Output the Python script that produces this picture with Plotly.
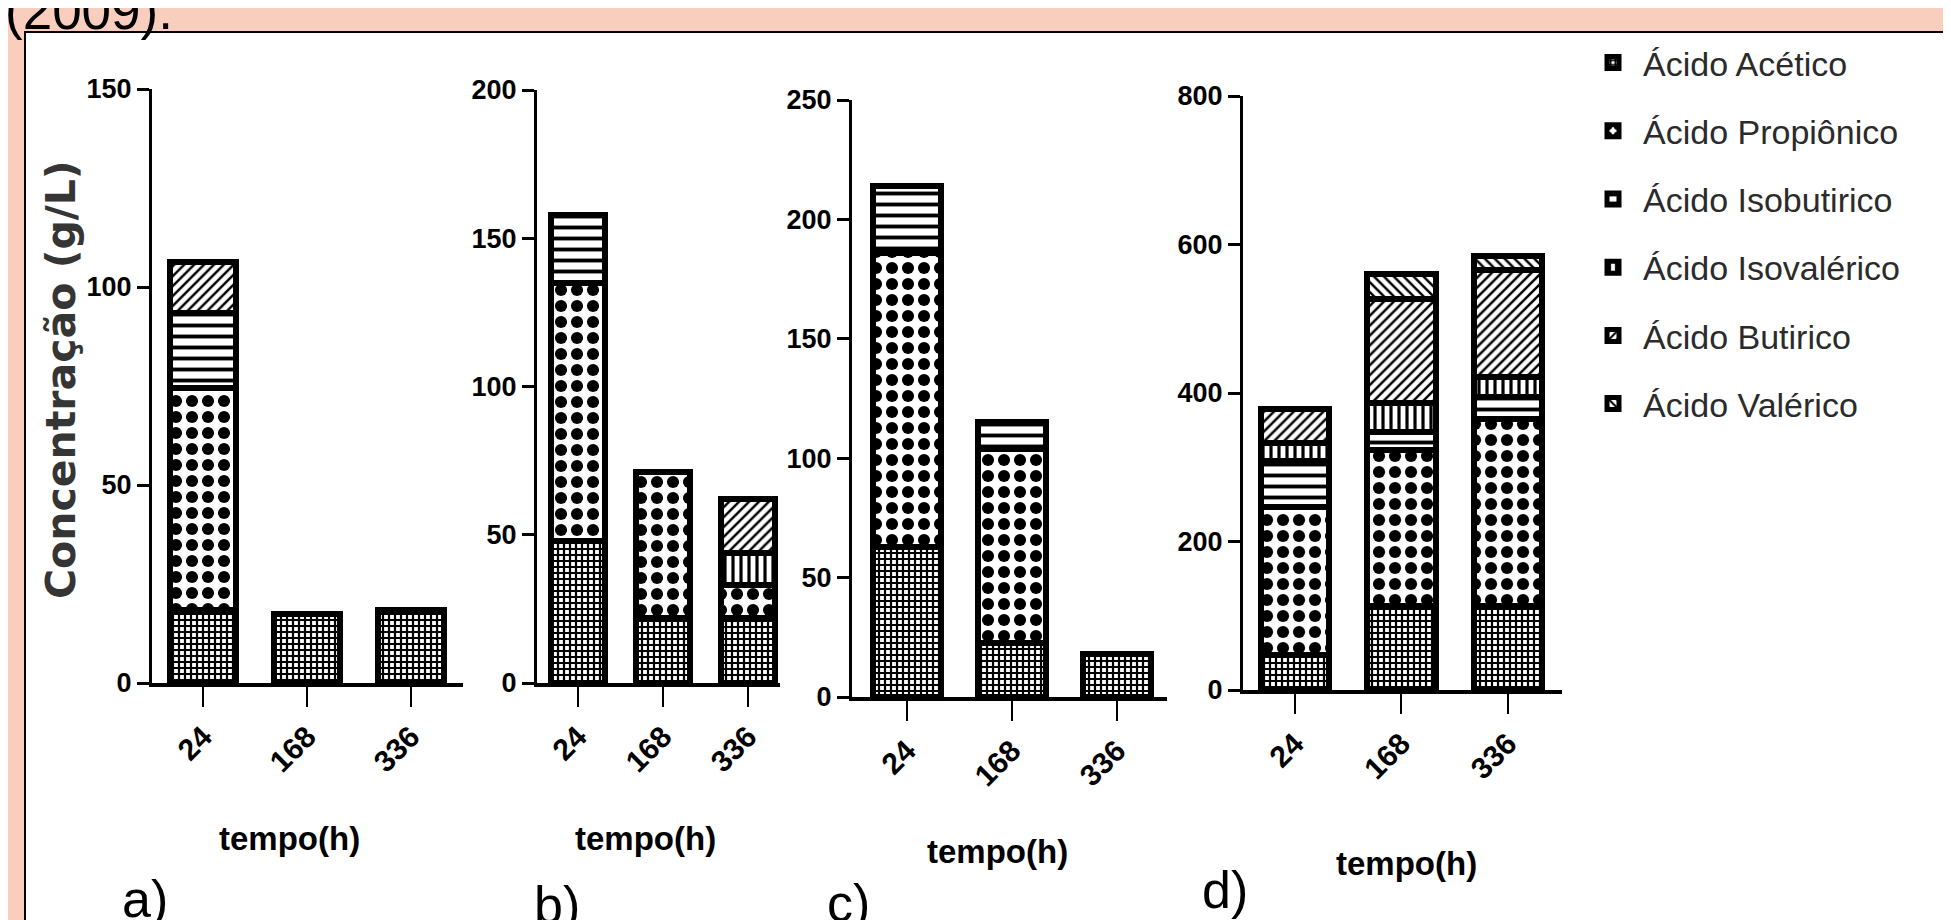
import plotly.graph_objects as go

# ---------------- data ----------------
times = ["24", "168", "336"]
acids = ["Ácido Acético", "Ácido Propiônico", "Ácido Isobutirico",
         "Ácido Isovalérico", "Ácido Butirico", "Ácido Valérico"]

a_acetico = [18.4, 17.5, 18.5]
a_propionico = [56, 0, 0]
a_isobutirico = [19, 0, 0]
a_isovalerico = [0, 0, 0]
a_butirico = [13, 0, 0]
a_valerico = [0, 0, 0]

b_acetico = [48, 22, 22]
b_propionico = [87, 49, 11]
b_isobutirico = [23, 0, 0]
b_isovalerico = [0, 0, 11]
b_butirico = [0, 0, 18]
b_valerico = [0, 0, 0]

c_acetico = [63, 22.5, 18]
c_propionico = [123, 81.5, 0]
c_isobutirico = [28, 11, 0]
c_isovalerico = [0, 0, 0]
c_butirico = [0, 0, 0]
c_valerico = [0, 0, 0]

d_acetico = [47, 113, 113]
d_propionico = [199, 210, 252]
d_isobutirico = [63, 24, 30]
d_isovalerico = [24, 40, 26]
d_butirico = [46, 139, 144]
d_valerico = [0, 34, 19]

y_max = [150, 200, 250, 800]
y_dtick = [50, 50, 50, 200]
panel_letters = ["a)", "b)", "c)", "d)"]
x_title = "tempo(h)"
y_title = "Concentração (g/L)"
header_text = "(2009)."

panels = [
    [a_acetico, a_propionico, a_isobutirico, a_isovalerico, a_butirico, a_valerico],
    [b_acetico, b_propionico, b_isobutirico, b_isovalerico, b_butirico, b_valerico],
    [c_acetico, c_propionico, c_isobutirico, c_isovalerico, c_butirico, c_valerico],
    [d_acetico, d_propionico, d_isobutirico, d_isovalerico, d_butirico, d_valerico],
]

# ---------------- styling ----------------
W, H = 1951, 920
OFF = 8  # page body margin offset
PINK = "rgb(250,206,191)"
BOLDF = "Liberation Sans, Arial, sans-serif"
SANS = "Liberation Sans, Arial, sans-serif"

patterns = [
    dict(shape="+", size=6, solidity=0.6),
    dict(shape=".", size=16, solidity=0.45),
    dict(shape="-", size=11, solidity=0.35),
    dict(shape="|", size=8, solidity=0.4),
    dict(shape="/", size=7, solidity=0.35),
    dict(shape="\\", size=7, solidity=0.35),
]

def px_x(v):
    return (v - OFF) / W

def px_y(v):
    return 1 - (v - OFF) / H

x_px = [(152, 463), (537, 780), (852, 1167), (1243, 1562)]
y_px = [(683, 89), (683, 90), (697, 100), (690, 96)]
x_ranges = [[-0.493, 2.50], [-0.482, 2.376], [-0.524, 2.476], [-0.488, 2.507]]
xtitle_pos = [(289, 838), (645, 838), (997, 851), (1406, 863)]
letter_pos = [(145, 868), (557, 874), (848, 872), (1225, 859)]

fig = go.Figure()

for p, series in enumerate(panels):
    sfx = "" if p == 0 else str(p + 1)
    for i, acid in enumerate(acids):
        pat = dict(patterns[i])
        pat.update(fgcolor="black", bgcolor="white", fillmode="replace")
        fig.add_trace(go.Bar(
            x=times, y=series[i], name=acid, legendgroup=acid,
            showlegend=(p == 0),
            width=0.64,
            marker=dict(color="white", line=dict(color="black", width=6), pattern=pat),
            xaxis="x" + sfx, yaxis="y" + sfx,
            hovertemplate=acid + ": %{y}<extra></extra>",
        ))

layout_axes = {}
for p in range(4):
    sfx = "" if p == 0 else str(p + 1)
    xl, xr = x_px[p]
    yb, yt = y_px[p]
    layout_axes["xaxis" + sfx] = dict(
        domain=[px_x(xl), px_x(xr)], anchor="y" + sfx, type="category",
        range=x_ranges[p], showline=True, linecolor="black", linewidth=4,
        ticks="outside", ticklen=20, tickwidth=2, tickcolor="black",
        tickangle=-45, showgrid=False, zeroline=False, fixedrange=True,
        automargin=False,
        tickfont=dict(family=BOLDF, size=30, color="black", weight="bold"),
    )
    layout_axes["yaxis" + sfx] = dict(
        domain=[px_y(yb), px_y(yt)], anchor="x" + sfx,
        range=[0, y_max[p]], dtick=y_dtick[p], showline=True, linecolor="black",
        linewidth=3, ticks="outside", ticklen=12, tickwidth=3, tickcolor="black",
        showgrid=False, zeroline=False, fixedrange=True, automargin=False,
        tickfont=dict(family=BOLDF, size=27, color="black", weight="bold"),
    )

annotations = [
    dict(text=header_text, x=px_x(3), y=px_y(42), xref="paper", yref="paper",
         xanchor="left", yanchor="bottom", showarrow=False,
         font=dict(family=SANS, size=53, color="black")),
    dict(text=y_title, x=px_x(61), y=px_y(380), xref="paper", yref="paper",
         xanchor="center", yanchor="middle", textangle=-90, showarrow=False,
         font=dict(family="DejaVu Sans, Liberation Sans, sans-serif", size=41,
                   color="#353535", weight="bold")),
]
for p in range(4):
    cx, cy = xtitle_pos[p]
    annotations.append(dict(
        text=x_title, x=px_x(cx), y=px_y(cy), xref="paper", yref="paper",
        xanchor="center", yanchor="middle", showarrow=False,
        font=dict(family=BOLDF, size=33, color="black", weight="bold")))
    lx, ly = letter_pos[p]
    annotations.append(dict(
        text=panel_letters[p], x=px_x(lx), y=px_y(ly), xref="paper", yref="paper",
        xanchor="center", yanchor="top", showarrow=False,
        font=dict(family=SANS, size=52, color="black")))

shapes = [
    dict(type="rect", xref="paper", yref="paper",
         x0=px_x(25), x1=px_x(1948), y0=px_y(940), y1=px_y(32),
         fillcolor="white", line=dict(color="black", width=2), layer="below"),
]

fig.update_layout(
    width=W, height=H, autosize=False,
    margin=dict(l=0, r=0, t=0, b=0, pad=0, autoexpand=False),
    paper_bgcolor=PINK, plot_bgcolor="white",
    barmode="stack", bargap=0.3,
    showlegend=True,
    legend=dict(
        x=px_x(1583), y=px_y(34), xanchor="left", yanchor="top",
        traceorder="grouped", tracegroupgap=21, bgcolor="rgba(0,0,0,0)",
        itemwidth=50, font=dict(family=SANS, size=34, color="#2b2b2b"),
    ),
    annotations=annotations, shapes=shapes,
    **layout_axes,
)

fig.write_html("out.html")
